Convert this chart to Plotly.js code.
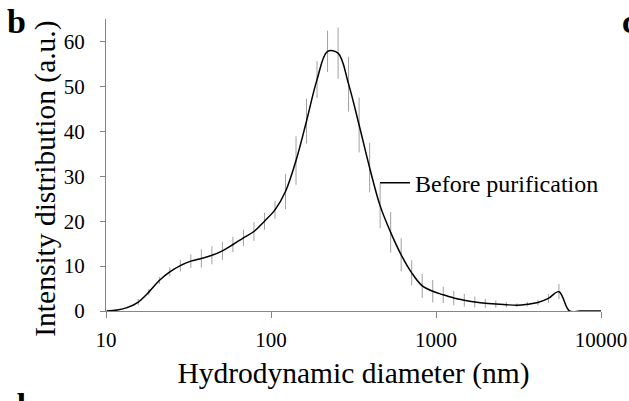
<!DOCTYPE html>
<html>
<head>
<meta charset="utf-8">
<script src="https://cdn.plot.ly/plotly-3.0.1.min.js"></script>
<style>
  html, body { margin: 0; padding: 0; background: #fff; }
  #chart { width: 629px; height: 401px; }
</style>
</head>
<body>
<div id="chart"></div>
<script>
// Hydrodynamic diameter bins (nm)
const diameters = [10.1, 11.7, 13.54, 15.69, 18.17, 21.04, 24.36, 28.21, 32.67, 37.84,
  43.82, 50.75, 58.77, 68.06, 78.82, 91.28, 105.7, 122.4, 141.8, 164.2,
  190.1, 220.2, 255.0, 295.3, 342.0, 396.1, 458.7, 531.2, 615.1, 712.4,
  825.0, 955.4, 1106, 1281, 1484, 1718, 1990, 2305, 2669, 3091,
  3580, 4145, 4801, 5560, 6439, 7456, 8635, 10000];
// Intensity distribution (a.u.)
const intensity = [0.0, 0.2, 0.8, 2.0, 4.2, 6.8, 8.7, 10.1, 11.1, 11.7,
  12.4, 13.4, 14.8, 16.3, 17.7, 20.0, 22.5, 26.6, 33.5, 42.3,
  51.5, 57.8, 57.4, 50.5, 41.4, 31.9, 23.4, 17.5, 12.5, 8.5,
  5.6, 4.4, 3.6, 2.9, 2.4, 2.0, 1.7, 1.55, 1.4, 1.3,
  1.5, 1.9, 2.8, 4.3, 0, 0, 0, 0];
// Error (±)
const errors = [0, 0.1, 0.2, 0.7, 0.7, 0.8, 1.0, 1.3, 1.5, 2.0,
  2.0, 2.0, 1.7, 1.8, 2.1, 1.9, 2.0, 3.9, 5.4, 5.0,
  4.1, 4.6, 5.7, 6.1, 6.1, 5.5, 5.0, 4.5, 3.7, 2.8,
  2.7, 2.5, 1.8, 1.6, 1.4, 1.2, 1.0, 0.8, 0.6, 0.4,
  0.5, 0.6, 1.0, 1.7, 0, 0, 0, 0];
const seriesName = "Before purification";
const xTitle = "Hydrodynamic diameter (nm)";
const yTitle = "Intensity distribution (a.u.)";
const xTickVals = [10, 100, 1000, 10000];
const xTickText = ["10", "100", "1000", "10000"];
const yTickVals = [0, 10, 20, 30, 40, 50, 60];
const panelLabels = ["b", "c", "d"];

const FONT = "Liberation Serif";
const AXIS_GRAY = "#868686";

const trace = {
  x: diameters,
  y: intensity,
  type: "scatter",
  mode: "lines",
  name: seriesName,
  line: { color: "#000", width: 1.5, shape: "spline", smoothing: 1 },
  error_y: { type: "data", array: errors, visible: true, color: "#a0a0a0", thickness: 1, width: 0 },
  showlegend: true
};

const pxToPaperX = px => (px - 106) / 495;
const pxToPaperY = py => (311.3 - py) / 292;

const layout = {
  width: 629, height: 401,
  margin: { l: 106, r: 28, t: 19, b: 90, pad: 0 },
  paper_bgcolor: "#fff",
  plot_bgcolor: "#fff",
  font: { family: FONT, color: "#000", size: 21 },
  xaxis: {
    type: "log",
    range: [1, 4],
    tickvals: xTickVals,
    ticktext: xTickText,
    ticks: "outside", ticklen: 6, tickcolor: AXIS_GRAY, tickwidth: 1,
    showline: true, linecolor: AXIS_GRAY, linewidth: 1,
    showgrid: false, zeroline: false,
    tickfont: { family: FONT, size: 21, color: "#000" },
    ticklabelstandoff: 4,
    title: { text: xTitle, font: { family: FONT, size: 29.5, color: "#000" }, standoff: 11 },
    automargin: false
  },
  yaxis: {
    range: [0, 65],
    tickvals: yTickVals,
    ticks: "outside", ticklen: 5, tickcolor: AXIS_GRAY, tickwidth: 1,
    showline: true, linecolor: AXIS_GRAY, linewidth: 1,
    showgrid: false, zeroline: false,
    tickfont: { family: FONT, size: 21, color: "#000" },
    ticklabelstandoff: 11,
    automargin: false
  },
  showlegend: true,
  legend: {
    x: pxToPaperX(375), y: pxToPaperY(161), xanchor: "left", yanchor: "top",
    bgcolor: "rgba(0,0,0,0)", borderwidth: 0,
    font: { family: FONT, size: 24, color: "#000" },
    itemwidth: 30
  },
  annotations: [
    { text: yTitle, xref: "paper", yref: "paper", x: pxToPaperX(46), y: pxToPaperY(179), xanchor: "center", yanchor: "middle", textangle: -90, showarrow: false, font: { family: FONT, size: 29.5, color: "#000" } },
    { text: "<b>" + panelLabels[0] + "</b>", xref: "paper", yref: "paper", x: pxToPaperX(5), y: pxToPaperY(22), xanchor: "left", yanchor: "middle", showarrow: false, font: { family: FONT, size: 34, color: "#000" } },
    { text: "<b>" + panelLabels[1] + "</b>", xref: "paper", yref: "paper", x: pxToPaperX(620), y: pxToPaperY(22), xanchor: "left", yanchor: "middle", showarrow: false, font: { family: FONT, size: 34, color: "#000" } },
    { text: "<b>" + panelLabels[2] + "</b>", xref: "paper", yref: "paper", x: pxToPaperX(5), y: pxToPaperY(406), xanchor: "left", yanchor: "middle", showarrow: false, font: { family: FONT, size: 34, color: "#000" } }
  ]
};

Plotly.newPlot("chart", [trace], layout, { staticPlot: true, displayModeBar: false });
</script>
</body>
</html>
